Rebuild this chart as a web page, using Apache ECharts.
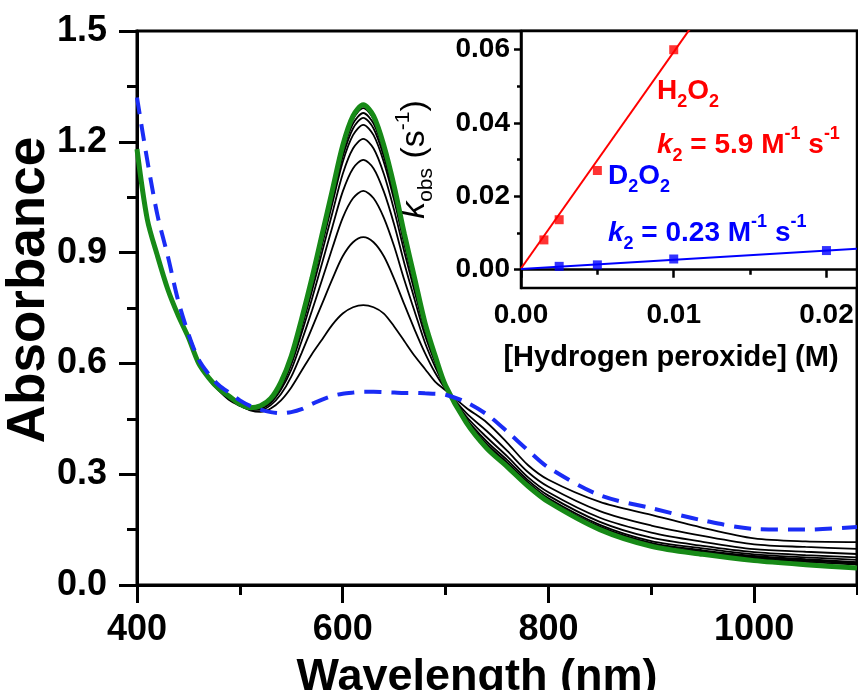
<!DOCTYPE html>
<html><head><meta charset="utf-8">
<script src="https://cdn.jsdelivr.net/npm/echarts/dist/echarts.min.js"></script>
<style>html,body{margin:0;padding:0;background:#fff}#c{width:858px;height:690px}</style>
</head><body><div id="c"></div>
<script>
// ---- main spectra ----
const wavelength = [400,410,420,430,440,450,460,470,480,490,500,510,520,530,540,550,560,570,580,590,600,610,620,630,640,650,660,670,680,690,700,720,740,760,780,800,850,900,950,1000,1050,1100];
const blueDashed = [1.32,1.15,1.00,0.89,0.77,0.68,0.61,0.57,0.54,0.52, 0.50,0.485,0.475,0.468,0.465,0.468,0.476,0.49,0.502,0.512, 0.518,0.521,0.523,0.523,0.522,0.521,0.52,0.52,0.519,0.518, 0.515, 0.495,0.462,0.415,0.365,0.318, 0.243,0.208,0.175,0.152,0.150,0.157];
const greenFinal = [1.18,0.99,0.89,0.80,0.73,0.67,0.60,0.56,0.53,0.51, 0.49,0.48,0.485,0.505,0.55,0.62,0.72,0.83,0.95,1.07, 1.19,1.27,1.30,1.27,1.19,1.08,0.95,0.83,0.71,0.62, 0.54, 0.44,0.37,0.32,0.268,0.225, 0.15,0.105,0.083,0.066,0.055,0.046];
const black1 = [1.18,0.99,0.89,0.80,0.73,0.665,0.60,0.555,0.525,0.50, 0.485,0.473,0.469,0.478,0.50,0.535,0.58,0.625,0.665,0.705, 0.735,0.752,0.758,0.752,0.735,0.70,0.66,0.62,0.585,0.55, 0.527, 0.48,0.44,0.385,0.325,0.285, 0.225,0.19,0.155,0.126,0.118,0.116];
const black2 = [1.18,0.99,0.89,0.80,0.73,0.667,0.60,0.557,0.527,0.503, 0.487,0.475,0.474,0.487,0.517,0.564,0.628,0.695,0.762,0.829, 0.890,0.928,0.942,0.928,0.890,0.829,0.759,0.691,0.628,0.574, 0.531, 0.466,0.417,0.363,0.306,0.266, 0.200,0.161,0.133,0.110,0.103,0.098];
const black3 = [1.18,0.99,0.89,0.80,0.73,0.668,0.60,0.558,0.528,0.506, 0.488,0.477,0.478,0.493,0.529,0.583,0.660,0.742,0.827,0.913, 0.994,1.047,1.067,1.047,0.994,0.917,0.825,0.740,0.656,0.590, 0.534, 0.457,0.40,0.348,0.292,0.251, 0.182,0.142,0.117,0.097,0.090,0.084];
const black4 = [1.18,0.99,0.89,0.80,0.73,0.669,0.60,0.559,0.529,0.507, 0.489,0.478,0.481,0.498,0.536,0.597,0.682,0.774,0.872,0.970, 1.065,1.128,1.151,1.128,1.065,0.976,0.870,0.772,0.676,0.601, 0.536, 0.451,0.389,0.338,0.284,0.242, 0.171,0.128,0.106,0.089,0.081,0.075];
const black5 = [1.18,0.99,0.89,0.80,0.73,0.669,0.60,0.559,0.529,0.508, 0.489,0.479,0.482,0.500,0.542,0.606,0.696,0.795,0.902,1.008, 1.113,1.182,1.208,1.182,1.113,1.015,0.901,0.794,0.689,0.608, 0.538, 0.447,0.382,0.331,0.278,0.235, 0.163,0.119,0.099,0.083,0.075,0.068];
const black6 = [1.18,0.99,0.89,0.80,0.73,0.670,0.60,0.560,0.530,0.509, 0.490,0.479,0.483,0.502,0.545,0.612,0.706,0.810,0.922,1.034, 1.145,1.218,1.246,1.218,1.145,1.042,0.921,0.809,0.698,0.613, 0.539, 0.444,0.377,0.327,0.274,0.231, 0.158,0.114,0.094,0.079,0.070,0.062];
const black7 = [1.18,0.99,0.89,0.80,0.73,0.670,0.60,0.560,0.530,0.509, 0.490,0.480,0.484,0.503,0.547,0.614,0.711,0.817,0.931,1.046, 1.160,1.236,1.265,1.236,1.160,1.055,0.931,0.816,0.702,0.615, 0.539, 0.443,0.375,0.324,0.272,0.229, 0.155,0.111,0.091,0.077,0.068,0.060];
const black8 = [1.18,0.99,0.89,0.80,0.73,0.670,0.60,0.560,0.530,0.509, 0.490,0.480,0.484,0.504,0.548,0.617,0.714,0.822,0.939,1.055, 1.172,1.249,1.278,1.249,1.172,1.065,0.938,0.822,0.705,0.617, 0.540, 0.442,0.373,0.323,0.270,0.227, 0.153,0.108,0.089,0.075,0.066,0.058];
const black9 = [1.18,0.99,0.89,0.80,0.73,0.670,0.60,0.560,0.530,0.509, 0.490,0.480,0.485,0.505,0.549,0.619,0.718,0.827,0.945,1.064, 1.182,1.261,1.291,1.261,1.182,1.074,0.945,0.826,0.708,0.619, 0.540, 0.441,0.371,0.321,0.269,0.226, 0.151,0.106,0.087,0.072,0.063,0.055];
const blackCurves = [black1,black2,black3,black4,black5,black6,black7,black8,black9];

const xMajorTicks = [400,600,800,1000];
const xMinorTicks = [500,700,900,1100];

// ---- inset kinetics ----
const concH2O2 = [0.0015,0.0025,0.005,0.01];
const kobsH2O2 = [0.0081,0.0136,0.027,0.0599];
const concD2O2 = [0.0025,0.005,0.01,0.02];
const kobsD2O2 = [0.0009,0.0013,0.0029,0.0052];
const fitH2O2X = [0,0.012];
const fitH2O2Y = [0.0003,0.0711];
const fitD2O2X = [0,0.022];
const fitD2O2Y = [0.0002,0.0057];
const insetXMajor = [0,0.01,0.02];
const insetXMinor = [0.005,0.015];
const insetYMajor = [0,0.02,0.04,0.06];
const insetYMinor = [0.01,0.03,0.05];

const FF = '"Liberation Sans", Arial, sans-serif';
const pairs = (xs, ys) => xs.map((x,i)=>[x, ys[i]]);

const chart = echarts.init(document.getElementById('c'), null, {renderer:'canvas'});

const SM = 0.3;
const series = [];
blackCurves.forEach((arr)=>{
  series.push({type:'line', xAxisIndex:0, yAxisIndex:0, data:pairs(wavelength, arr), smooth:SM, symbol:'none',
    lineStyle:{color:'#000', width:1.8}, z:3, silent:true});
});
series.push({type:'line', xAxisIndex:0, yAxisIndex:0, data:pairs(wavelength, greenFinal), smooth:SM, symbol:'none',
  lineStyle:{color:'#178a17', width:5}, z:4, silent:true});
series.push({type:'line', xAxisIndex:0, yAxisIndex:0, data:pairs(wavelength, blueDashed), smooth:SM, symbol:'none',
  lineStyle:{color:'#1a2cf5', width:4, type:[17,10]}, z:5, silent:true});

series.push({type:'line', xAxisIndex:2, yAxisIndex:1, data:pairs(fitH2O2X, fitH2O2Y), symbol:'none', lineStyle:{color:'#ff0000', width:2}, z:6, clip:true});
series.push({type:'line', xAxisIndex:2, yAxisIndex:1, data:pairs(fitD2O2X, fitD2O2Y), symbol:'none', lineStyle:{color:'#0000ff', width:2}, z:6, clip:true});
series.push({type:'scatter', xAxisIndex:2, yAxisIndex:1, data:pairs(concH2O2, kobsH2O2), symbol:'rect', symbolSize:9, itemStyle:{color:'#ff0000'}, z:7});
series.push({type:'scatter', xAxisIndex:2, yAxisIndex:1, data:pairs(concD2O2, kobsD2O2), symbol:'rect', symbolSize:9, itemStyle:{color:'#0000ff'}, z:7});

const bigTick = {fontFamily:FF, fontWeight:'bold', fontSize:36, color:'#000'};
const smallTick = {fontFamily:FF, fontWeight:'bold', fontSize:28, color:'#000'};

const annRich = (color)=>({
  n:{fontFamily:FF, fontWeight:'bold', fontSize:28, fill:color, lineHeight:40, verticalAlign:'middle'},
  i:{fontFamily:FF, fontWeight:'bold', fontStyle:'italic', fontSize:28, fill:color, lineHeight:40, verticalAlign:'middle'},
  s:{fontFamily:FF, fontWeight:'bold', fontSize:18, fill:color, lineHeight:14, verticalAlign:'bottom'},
  p:{fontFamily:FF, fontWeight:'bold', fontSize:18, fill:color, lineHeight:26, verticalAlign:'top'}
});

const option = {
  backgroundColor:'#fff',
  animation:false,
  grid:[
    {left:137, right:1, top:31, bottom:105, show:true, borderColor:'#000', borderWidth:3, backgroundColor:'transparent', containLabel:false, outerBoundsMode:'none'},
    {left:521, right:1, top:31, bottom:402, show:true, borderColor:'#000', borderWidth:2.5, backgroundColor:'#fff', containLabel:false, outerBoundsMode:'none'}
  ],
  xAxis:[
    {type:'value', gridIndex:0, min:400, max:1100, position:'bottom',
     axisLine:{lineStyle:{color:'#000', width:3}},
     axisTick:{customValues:xMajorTicks, length:18, inside:false, lineStyle:{width:3, color:'#000'}},
     axisLabel:{customValues:xMajorTicks, margin:27, formatter:(v)=>String(v), ...bigTick},
     splitLine:{show:false},
     name:'Wavelength (nm)', nameLocation:'middle', nameGap:70, nameMoveOverlap:false,
     nameTextStyle:{fontFamily:FF, fontWeight:'bold', fontSize:45, color:'#000', padding:[0,40,0,0]}},
    {type:'value', gridIndex:0, min:400, max:1100, position:'bottom',
     axisLine:{show:false}, axisLabel:{show:false}, splitLine:{show:false},
     axisTick:{customValues:xMinorTicks, length:10, lineStyle:{width:3, color:'#000'}}},
    {type:'value', gridIndex:1, min:0, max:0.022, position:'bottom',
     axisLine:{lineStyle:{color:'#000', width:2.5}},
     axisTick:{customValues:insetXMajor, length:8, lineStyle:{width:2.5, color:'#000'}},
     axisLabel:{customValues:insetXMajor, margin:13, formatter:(v)=>v.toFixed(2), ...smallTick},
     splitLine:{show:false},
     name:'[Hydrogen peroxide] (M)', nameLocation:'middle', nameGap:55, nameMoveOverlap:false,
     nameTextStyle:{fontFamily:FF, fontWeight:'bold', fontSize:29, color:'#000', padding:[0,36,0,0]}},
    {type:'value', gridIndex:1, min:0, max:0.022, position:'bottom',
     axisLine:{show:false}, axisLabel:{show:false}, splitLine:{show:false},
     axisTick:{customValues:insetXMinor, length:5, lineStyle:{width:2.5, color:'#000'}}}
  ],
  yAxis:[
    {type:'value', gridIndex:0, min:0, max:1.5, interval:0.3, position:'left',
     axisLine:{show:true, lineStyle:{color:'#000', width:3}},
     axisTick:{show:true, length:18, lineStyle:{width:3, color:'#000'}},
     minorTick:{show:true, splitNumber:2, length:10, lineStyle:{width:3, color:'#000'}},
     axisLabel:{margin:30, formatter:(v)=>v.toFixed(1), ...bigTick},
     splitLine:{show:false},
     name:'Absorbance', nameLocation:'middle', nameGap:81, nameMoveOverlap:false,
     nameTextStyle:{fontFamily:FF, fontWeight:'bold', fontSize:53, color:'#000', padding:[0,0,0,36]}},
    {type:'value', gridIndex:1, min:-0.005, max:0.065, position:'left',
     axisLine:{show:true, lineStyle:{color:'#000', width:2.5}},
     axisTick:{show:true, customValues:insetYMajor, length:7, lineStyle:{width:2.5, color:'#000'}},
     axisLabel:{customValues:insetYMajor, margin:11, formatter:(v)=>v.toFixed(2), ...smallTick},
     splitLine:{show:false},
     name:'{i|k}{s|obs}{n| (s}{p|-1}{n|)}', nameLocation:'middle', nameGap:84,
     nameTextStyle:{rich:{
       n:{fontFamily:FF, fontSize:34, color:'#000', lineHeight:44, verticalAlign:'middle'},
       i:{fontFamily:FF, fontStyle:'italic', fontSize:34, color:'#000', lineHeight:44, verticalAlign:'middle'},
       s:{fontFamily:FF, fontSize:21, color:'#000', lineHeight:16, verticalAlign:'bottom'},
       p:{fontFamily:FF, fontSize:21, color:'#000', lineHeight:29, verticalAlign:'top'}
     }}},
    {type:'value', gridIndex:1, min:-0.005, max:0.065, position:'left',
     axisLine:{show:false}, axisLabel:{show:false}, splitLine:{show:false},
     axisTick:{show:true, customValues:insetYMinor, length:4, lineStyle:{width:2.5, color:'#000'}}}
  ],
  graphic:[
    {type:'text', left:657, top:77, z:100, style:{text:'{n|H}{s|2}{n|O}{s|2}', rich:annRich('#ff0000')}},
    {type:'text', left:657, top:125, z:100, style:{text:'{i|k}{s|2}{n| = 5.9 M}{p|-1}{n| s}{p|-1}', rich:annRich('#ff0000')}},
    {type:'text', left:608, top:162, z:100, style:{text:'{n|D}{s|2}{n|O}{s|2}', rich:annRich('#0000ff')}},
    {type:'text', left:608, top:213, z:100, style:{text:'{i|k}{s|2}{n| = 0.23 M}{p|-1}{n| s}{p|-1}', rich:annRich('#0000ff')}}
  ],
  series
};
chart.setOption(option);
</script></body></html>
